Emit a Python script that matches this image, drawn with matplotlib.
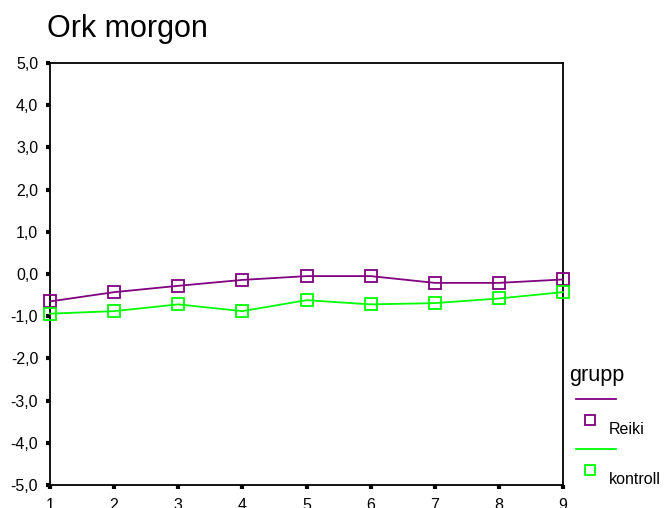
import matplotlib
matplotlib.use("Agg")
import matplotlib.pyplot as plt
from matplotlib.lines import Line2D
from matplotlib.ticker import FuncFormatter

plt.rcParams["font.family"] = ["Liberation Sans", "DejaVu Sans"]

# data
tid = [1, 2, 3, 4, 5, 6, 7, 8, 9]
reiki = [-0.65, -0.43, -0.28, -0.14, -0.05, -0.05, -0.21, -0.21, -0.13]
kontroll = [-0.94, -0.88, -0.72, -0.88, -0.62, -0.72, -0.69, -0.58, -0.43]
y_ticks = [-5, -4, -3, -2, -1, 0, 1, 2, 3, 4, 5]
groups = ["Reiki", "kontroll"]
colors = ["#800080", "#00ff00"]

W, H = 664, 508
fig = plt.figure(figsize=(W / 100, H / 100), dpi=100)
ax = fig.add_axes([50 / W, 1 - 485 / H, (563 - 50) / W, (485 - 63) / H])

for vals, c in zip([reiki, kontroll], colors):
    ax.plot(tid, vals, color=c, lw=1.3, marker="s", markersize=9,
            markerfacecolor="none", markeredgecolor=c, markeredgewidth=1.3,
            clip_on=False, zorder=3)

ax.set_xlim(1, 9)
ax.set_ylim(-5, 5)
ax.set_xticks(tid)
ax.set_yticks(y_ticks)
ax.yaxis.set_major_formatter(FuncFormatter(lambda v, p: f"{v:.1f}".replace(".", ",")))
ax.tick_params(axis="both", direction="out", length=3, width=3, labelsize=11.5,
               colors="black")
ax.tick_params(axis="x", pad=6)
ax.tick_params(axis="y", pad=5.5)
for s in ax.spines.values():
    s.set_linewidth(1.3)

fig.text(47 / W, 1 - 29 / H, "Ork morgon", fontsize=22, va="center", ha="left")

# legend, drawn by hand to match the layout
fig.text(569 / W, 1 - 375 / H, "grupp", fontsize=15.5, va="center", ha="left")
for i, (g, c) in enumerate(zip(groups, colors)):
    y0 = 399 + i * 50
    fig.add_artist(Line2D([576 / W, 616 / W], [1 - y0 / H, 1 - y0 / H],
                          color=c, lw=1.3, transform=fig.transFigure))
    fig.add_artist(Line2D([590 / W], [1 - (y0 + 21) / H], marker="s",
                          markersize=7.5, markerfacecolor="none",
                          markeredgecolor=c, markeredgewidth=1.3,
                          transform=fig.transFigure))
    fig.text(609 / W, 1 - (y0 + 31) / H, g, fontsize=11.5, va="center", ha="left")

fig.savefig("out.png", dpi=100)
